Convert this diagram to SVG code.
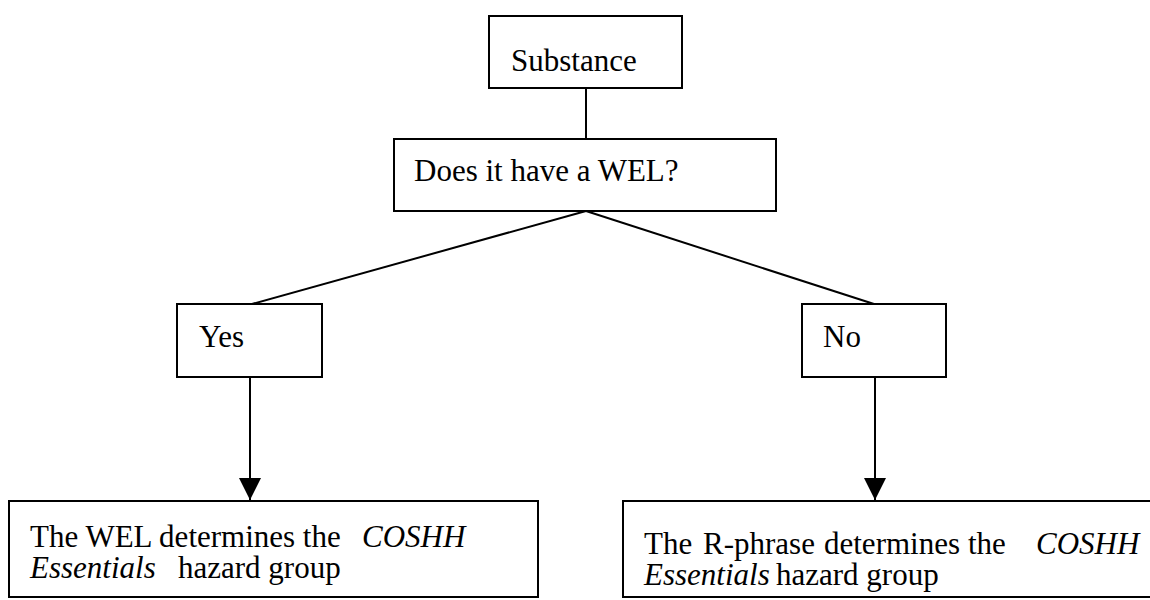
<svg xmlns="http://www.w3.org/2000/svg" width="1150" height="600" viewBox="0 0 1150 600">
<style>
.box{fill:#fff;stroke:#000;stroke-width:2}
.ln{fill:none;stroke:#000;stroke-width:2}
text{font-family:"Liberation Serif","Times New Roman",serif;font-size:31px;fill:#000}
.it{font-style:italic}
</style>
<defs>
<marker id="ah" markerWidth="22" markerHeight="22" refX="22" refY="11" orient="auto" markerUnits="userSpaceOnUse">
<path d="M0,0 L22,11 L0,22 Z" fill="#000"/>
</marker>
</defs>
<rect width="1150" height="600" fill="#fff"/>
<g id="connectors">
<line class="ln" x1="586" y1="88" x2="586" y2="139"/>
<line class="ln" x1="586" y1="211" x2="252" y2="304"/>
<line class="ln" x1="586" y1="211" x2="874" y2="304"/>
<line class="ln" x1="250" y1="377" x2="250" y2="500" marker-end="url(#ah)"/>
<line class="ln" x1="875" y1="377" x2="875" y2="500" marker-end="url(#ah)"/>
</g>
<g id="substance">
<rect class="box" x="489" y="16" width="193" height="72"/>
<text x="511" y="71">Substance</text>
</g>
<g id="wel">
<rect class="box" x="394" y="139" width="382" height="72"/>
<text x="414" y="181">Does it have a WEL?</text>
</g>
<g id="yes">
<rect class="box" x="177" y="304" width="145" height="73"/>
<text x="199" y="347">Yes</text>
</g>
<g id="no">
<rect class="box" x="802" y="304" width="144" height="73"/>
<text x="823" y="347">No</text>
</g>
<g id="wel-result">
<rect class="box" x="9" y="501" width="529" height="96"/>
<text x="30" y="547">The WEL determines the <tspan class="it" x="362">COSHH</tspan></text>
<text x="30" y="578"><tspan class="it">Essentials</tspan><tspan x="178">hazard group</tspan></text>
</g>
<g id="rphrase-result">
<rect class="box" x="623" y="501" width="540" height="96"/>
<text y="554"><tspan x="644">The</tspan><tspan x="703">R-phrase</tspan><tspan x="824">determines</tspan><tspan x="968">the</tspan><tspan class="it" x="1036">COSHH</tspan></text>
<text y="585"><tspan class="it" x="644">Essentials</tspan><tspan x="776">hazard group</tspan></text>
</g>
</svg>
